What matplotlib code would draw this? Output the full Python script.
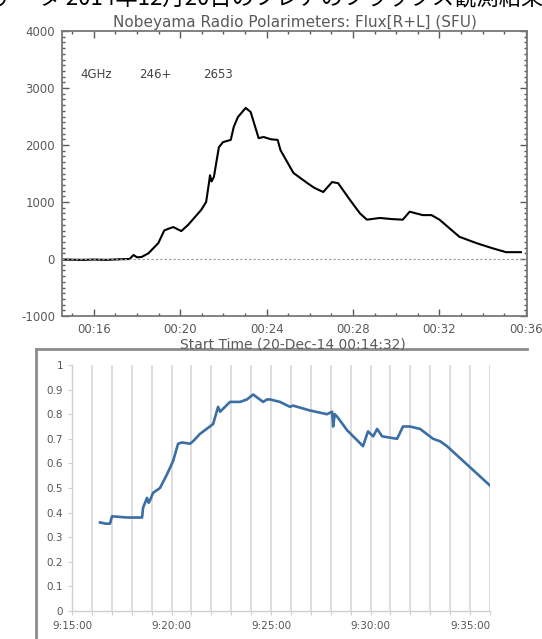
import matplotlib
matplotlib.use("Agg")
import matplotlib.pyplot as plt
from matplotlib.patches import Rectangle
from matplotlib.lines import Line2D
from matplotlib.ticker import MultipleLocator, FuncFormatter

W, H = 542, 639

# top panel: Nobeyama 4GHz flux, minutes after 00:00 UT, SFU
nrp_min = [14.6, 15.5, 16.0, 16.6, 17.2, 17.66, 17.84, 18.0, 18.21, 18.53, 18.99,
           19.26, 19.45, 19.68, 20.05, 20.37, 20.97, 21.2, 21.33, 21.38, 21.45,
           21.56, 21.79, 21.98, 22.34, 22.48, 22.67, 23.03, 23.26, 23.63, 23.86,
           24.2, 24.51, 24.64, 25.24, 25.89, 26.2, 26.62, 27.03, 27.31, 27.86,
           28.32, 28.64, 29.24, 29.8, 30.3, 30.62, 31.22, 31.63, 32.0, 32.92,
           33.7, 34.44, 35.08, 35.77]
nrp_sfu = [-10, -15, -10, -15, -5, 0, 70, 30, 35, 100, 280,
           500, 530, 560, 490, 600, 860, 1000, 1330, 1470, 1360,
           1440, 1960, 2050, 2090, 2320, 2490, 2650, 2580, 2120, 2140,
           2100, 2090, 1910, 1510, 1330, 1250, 1175, 1350, 1330, 1035,
           800, 690, 720, 700, 690, 830, 770, 770, 690, 390,
           280, 190, 120, 120]
nrp_notes = ["4GHz", "246+", "2653"]

# bottom panel: relative brightness, minutes after 9:15:00
obs_min = [1.41, 1.7, 1.91, 2.01, 2.76, 3.52, 3.57, 3.77, 3.85, 3.92, 4.07, 4.42,
           4.77, 5.08, 5.33, 5.53, 5.93, 6.08, 6.43, 7.09, 7.34, 7.44, 7.94, 8.44,
           8.79, 9.1, 9.6, 9.8, 9.95, 10.45, 10.95, 11.1, 11.96, 12.81, 13.07,
           13.12, 13.2, 13.32, 13.82, 14.62, 14.87, 15.13, 15.33, 15.58, 16.33,
           16.63, 16.98, 17.49, 18.14, 18.49, 18.84, 21.0]
obs_val = [0.36, 0.355, 0.355, 0.385, 0.38, 0.38, 0.42, 0.46, 0.44, 0.45, 0.48, 0.50,
           0.555, 0.61, 0.68, 0.685, 0.68, 0.69, 0.72, 0.76, 0.83, 0.81, 0.85, 0.85,
           0.86, 0.88, 0.85, 0.86, 0.86, 0.85, 0.83, 0.835, 0.815, 0.80, 0.81,
           0.75, 0.80, 0.79, 0.735, 0.67, 0.73, 0.71, 0.74, 0.71, 0.70,
           0.75, 0.75, 0.74, 0.70, 0.69, 0.67, 0.51]
obs_ticks = ["9:15:00", "9:20:00", "9:25:00", "9:30:00", "9:35:00"]

header = "データ 2014年12月20日のフレアのフラックス観測結果と比較"


def fx(px):
    return px / W


def fy(py):
    return 1 - py / H


fig = plt.figure(figsize=(W / 100, H / 100), dpi=100)
fig.patch.set_facecolor("white")

# caption line of the page, mostly cut off at the top edge
fig.text(fx(-6), fy(4), header, fontsize=16, va="baseline", ha="left",
         family=["Noto Sans CJK JP", "DejaVu Sans"], color="black")

# ---- top panel (IDL style)
gray = "#5a5a5a"
ax = fig.add_axes([fx(62), fy(316), fx(527 - 62), (316 - 31) / H])
ax.plot(nrp_min, nrp_sfu, color="black", lw=1.5)
ax.axhline(0, color="#999999", lw=0.8, ls=(0, (2, 2)))
ax.set_xlim(14.53, 36.05)
ax.set_ylim(-1000, 4000)
ax.xaxis.set_major_locator(MultipleLocator(4))
ax.xaxis.set_minor_locator(MultipleLocator(1))
ax.yaxis.set_major_locator(MultipleLocator(1000))
ax.yaxis.set_minor_locator(MultipleLocator(100))
ax.xaxis.set_major_formatter(FuncFormatter(lambda v, p: "00:%02d" % int(round(v))))
ax.yaxis.set_major_formatter(FuncFormatter(lambda v, p: "%d" % v))
ax.tick_params(which="both", direction="in", top=True, right=True, colors=gray,
               labelsize=8.5, width=1)
ax.tick_params(which="major", length=5, pad=5)
ax.tick_params(which="minor", length=2.5)
for s in ax.spines.values():
    s.set_color("#777777")
    s.set_linewidth(1.3)
ax.set_title("Nobeyama Radio Polarimeters: Flux[R+L] (SFU)", fontsize=11,
             color=gray, pad=3)
for txt, xv in zip(nrp_notes, [15.36, 18.11, 21.06]):
    ax.text(xv, 3245, txt, fontsize=8.5, color="#444444", va="center")
fig.text(fx(293), fy(338), "Start Time (20-Dec-14 00:14:32)", fontsize=10,
         color=gray, ha="center", va="top")

# ---- bottom panel (spreadsheet chart pasted below)
fig.add_artist(Rectangle((fx(36), 0), 1, fy(348), facecolor="white",
                         edgecolor="none", transform=fig.transFigure, zorder=1))
fig.add_artist(Line2D([fx(36), fx(527)], [fy(349), fy(349)], color="#8c8c8c",
                      lw=2, transform=fig.transFigure, zorder=1.5))
fig.add_artist(Line2D([fx(36), fx(36)], [fy(349), 0], color="#8c8c8c",
                      lw=2, transform=fig.transFigure, zorder=1.5))

bx = fig.add_axes([fx(72), fy(611), fx(490 - 72), (611 - 365) / H], zorder=2)
bx.set_facecolor("none")
bx.plot(obs_min, obs_val, color="#3b6ea5", lw=1.9, zorder=3)
bx.set_xlim(0, 21)
bx.set_ylim(0, 1)
bx.xaxis.set_minor_locator(MultipleLocator(1))
bx.yaxis.set_major_locator(MultipleLocator(0.1))
bx.set_xticks(range(0, 21, 5), obs_ticks)
bx.yaxis.set_major_formatter(FuncFormatter(lambda v, p: "%g" % round(v, 1)))
bx.grid(True, axis="x", which="both", color="#d4d4d4", lw=1.1)
bx.tick_params(which="both", colors="#d0d0d0", labelcolor="#555555",
               labelsize=7.5, length=3, width=0.8)
bx.tick_params(axis="x", pad=4)
for side in ["top", "right"]:
    bx.spines[side].set_visible(False)
for side in ["left", "bottom"]:
    bx.spines[side].set_color("#cfcfcf")
    bx.spines[side].set_linewidth(1)

fig.savefig("out.png", dpi=100)
